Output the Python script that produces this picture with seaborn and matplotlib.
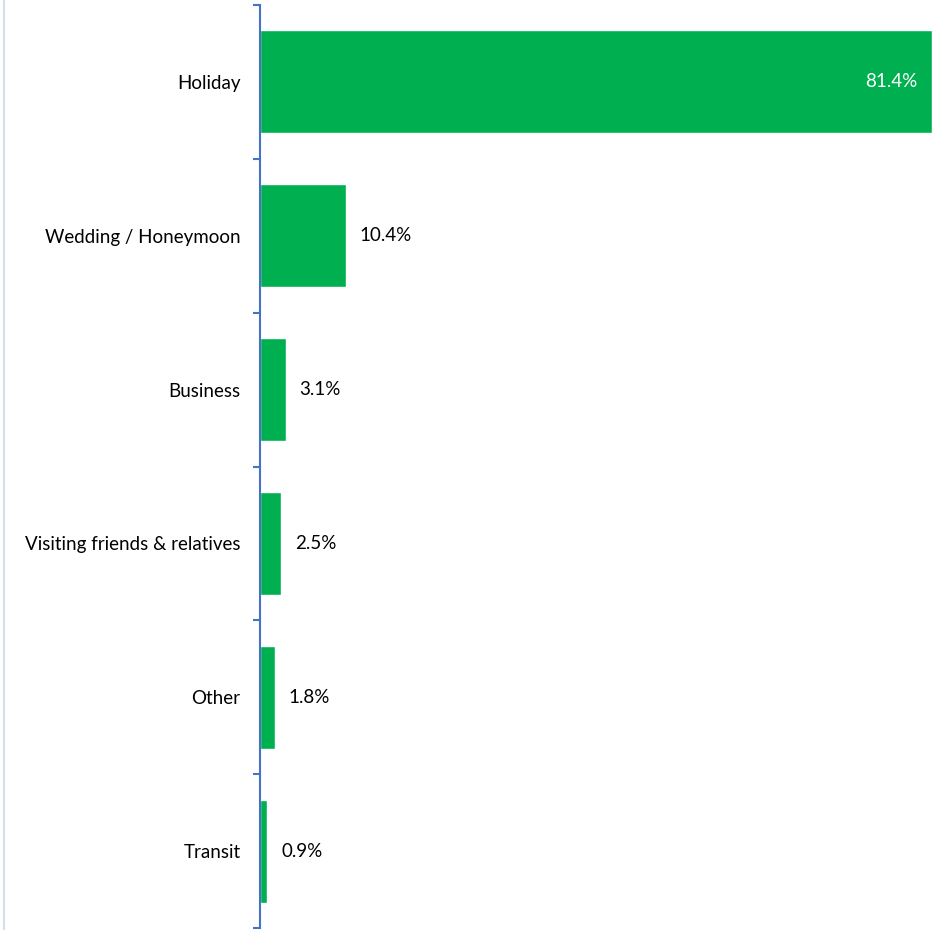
import matplotlib
matplotlib.use("Agg")
import matplotlib.pyplot as plt
from matplotlib.lines import Line2D
import seaborn as sns
import pandas as pd

categories = ["Holiday", "Wedding / Honeymoon", "Business",
              "Visiting friends & relatives", "Other", "Transit"]
shares = [81.4, 10.4, 3.1, 2.5, 1.8, 0.9]
value_labels = ["81.4%", "10.4%", "3.1%", "2.5%", "1.8%", "0.9%"]

df = pd.DataFrame({"purpose": categories, "share": shares})

sns.set_theme(style="white")
plt.rcParams["font.family"] = ["Lato", "DejaVu Sans"]

W, H = 934, 930
fig = plt.figure(figsize=(W / 100, H / 100), dpi=100)
ax = fig.add_axes([260 / W, 2 / H, 674 / W, 923 / H])

green = "#00B050"
axis_blue = "#4472C4"

sns.barplot(data=df, x="share", y="purpose", orient="h", color=green,
            saturation=1, width=0.67, ax=ax)

ax.set_xlim(0, 81.65)
ax.set_ylim(len(categories) - 0.5, -0.5)
ax.set_xlabel("")
ax.set_ylabel("")
ax.set_xticks([])

for s in ["top", "right", "bottom"]:
    ax.spines[s].set_visible(False)
ax.spines["left"].set_color(axis_blue)
ax.spines["left"].set_linewidth(1.5)

# category labels centred on bars, ticks at band boundaries
fs = 13.5
ax.set_yticks(range(len(categories)))
ax.set_yticklabels(categories, fontsize=fs, color="#000000")
ax.tick_params(axis="y", which="major", left=False, length=0, pad=14)
ax.set_yticks([i - 0.5 for i in range(len(categories) + 1)], minor=True)
ax.tick_params(axis="y", which="minor", left=True, length=5, width=1.5,
               color=axis_blue, direction="out")

for i, (v, lab) in enumerate(zip(shares, value_labels)):
    if v > 40:
        ax.text(v - 1.8, i, lab, ha="right", va="center", fontsize=fs, color="white")
    else:
        ax.text(v + 1.7, i, lab, ha="left", va="center", fontsize=fs, color="#000000")

# thin frame line at the left edge
fig.add_artist(Line2D([3.5 / W, 3.5 / W], [0, 1], transform=fig.transFigure,
                      color="#D6DEEE", linewidth=1.5))

fig.savefig("out.png", dpi=100)
